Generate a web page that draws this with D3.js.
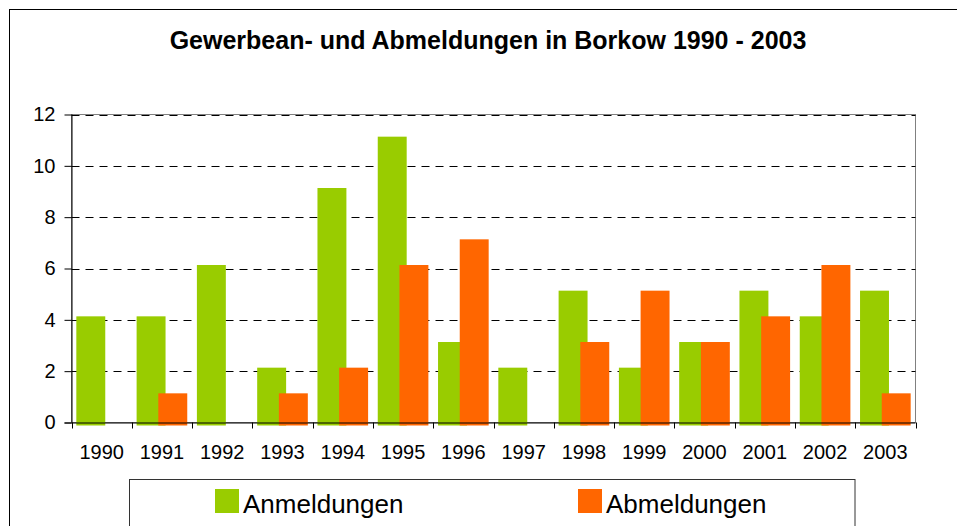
<!DOCTYPE html>
<html>
<head>
<meta charset="utf-8">
<script src="https://cdn.jsdelivr.net/npm/d3@7"></script>
<style>
  body { margin: 0; background: #fff; }
  svg { display: block; font-family: "Liberation Sans", Arial, sans-serif; }
</style>
</head>
<body>
<div id="chart"></div>
<script>
(function() {
    // Data
    const years = ["1990", "1991", "1992", "1993", "1994", "1995", "1996",
                   "1997", "1998", "1999", "2000", "2001", "2002", "2003"];
    const anmeldungen = [4, 4, 6, 2, 9, 11, 3, 2, 5, 2, 3, 5, 4, 5];
    const abmeldungen = [0, 1, 0, 1, 2, 6, 7, 0, 3, 5, 3, 4, 6, 1];
    const yTicks = [0, 2, 4, 6, 8, 10, 12];
    const seriesNames = ["Anmeldungen", "Abmeldungen"];
    const seriesColors = ["#99CC00", "#FF6600"];

    const width = 957, height = 526;
    const plot = { left: 71.5, right: 915.5, top: 114.5, bottom: 422.5 };

    const svg = d3.select("#chart")
        .append("svg")
        .attr("width", width)
        .attr("height", height);

    // outer chart frame (runs off the right/bottom edge)
    svg.append("rect")
        .attr("x", 9.5).attr("y", 9.5)
        .attr("width", 1000).attr("height", 1000)
        .attr("fill", "none")
        .attr("stroke", "#000");

    svg.append("text")
        .attr("x", 488)
        .attr("y", 49)
        .attr("text-anchor", "middle")
        .attr("font-size", "25px")
        .attr("font-weight", "bold")
        .text("Gewerbean- und Abmeldungen in Borkow 1990 - 2003");

    const x = d3.scaleBand()
        .domain(years)
        .range([plot.left, plot.right])
        .padding(0);

    const y = d3.scaleLinear()
        .domain([0, 12])
        .range([plot.bottom, plot.top]);

    // plot area border
    svg.append("rect")
        .attr("x", plot.left).attr("y", plot.top)
        .attr("width", plot.right - plot.left)
        .attr("height", plot.bottom - plot.top)
        .attr("fill", "none")
        .attr("stroke", "#808080");

    // dashed gridlines
    svg.append("g")
        .selectAll("line")
        .data(yTicks.filter(d => d > 0))
        .enter().append("line")
        .attr("x1", plot.left).attr("x2", plot.right)
        .attr("y1", d => Math.round(y(d)) + 0.5)
        .attr("y2", d => Math.round(y(d)) + 0.5)
        .attr("stroke", "#000")
        .attr("stroke-dasharray", "8,6");

    // bars: green first, orange overlapping on top
    const bw = x.bandwidth();
    const barOffsets = [0.08, 0.44];
    const barWidth = bw * 0.48;
    [anmeldungen, abmeldungen].forEach((values, s) => {
        svg.append("g")
            .selectAll("rect")
            .data(years.map((yr, i) => ({ yr, v: values[i] })).filter(d => d.v > 0))
            .enter().append("rect")
            .attr("x", d => x(d.yr) + bw * barOffsets[s])
            .attr("width", barWidth)
            .attr("y", d => y(d.v) - 3.5)
            .attr("height", d => y(0) - y(d.v) + 6.5)
            .attr("fill", seriesColors[s]);
    });

    // y axis
    const yAxis = svg.append("g")
        .attr("transform", `translate(${plot.left},0)`)
        .call(d3.axisLeft(y).tickValues(yTicks).tickSize(7).tickPadding(9));
    yAxis.selectAll("text").attr("font-size", "20px").attr("fill", "#000");
    yAxis.selectAll("line, path").attr("stroke", "#000");
    yAxis.select(".domain").attr("d", `M0.5,${plot.top}V${plot.bottom}`);

    // x axis
    const xAxis = svg.append("g")
        .attr("transform", `translate(0,${plot.bottom})`)
        .call(d3.axisBottom(x).tickSize(0).tickPadding(22));
    xAxis.selectAll("text").attr("font-size", "20px").attr("fill", "#000");
    xAxis.select(".domain")
        .attr("d", `M${plot.left - 7},0.5H${plot.right}`)
        .attr("stroke", "#000");
    xAxis.selectAll("line.boundary")
        .data(years.concat(["end"]))
        .enter().append("line")
        .attr("class", "boundary")
        .attr("x1", (d, i) => Math.round(plot.left + i * bw) + 0.5)
        .attr("x2", (d, i) => Math.round(plot.left + i * bw) + 0.5)
        .attr("y1", 0).attr("y2", 6)
        .attr("stroke", "#000");

    // legend
    svg.append("rect")
        .attr("x", 129.5).attr("y", 479.5)
        .attr("width", 725.5).attr("height", 100)
        .attr("fill", "#fff")
        .attr("stroke", "#333");

    const legendX = [215, 578];
    const legend = svg.append("g")
        .selectAll("g")
        .data(seriesNames)
        .enter().append("g")
        .attr("transform", (d, i) => `translate(${legendX[i]},489)`);
    legend.append("rect")
        .attr("width", 24).attr("height", 24)
        .attr("fill", (d, i) => seriesColors[i]);
    legend.append("text")
        .attr("x", 28)
        .attr("y", 23.5)
        .attr("font-size", "26px")
        .text(d => d);
})();
</script>
</body>
</html>
